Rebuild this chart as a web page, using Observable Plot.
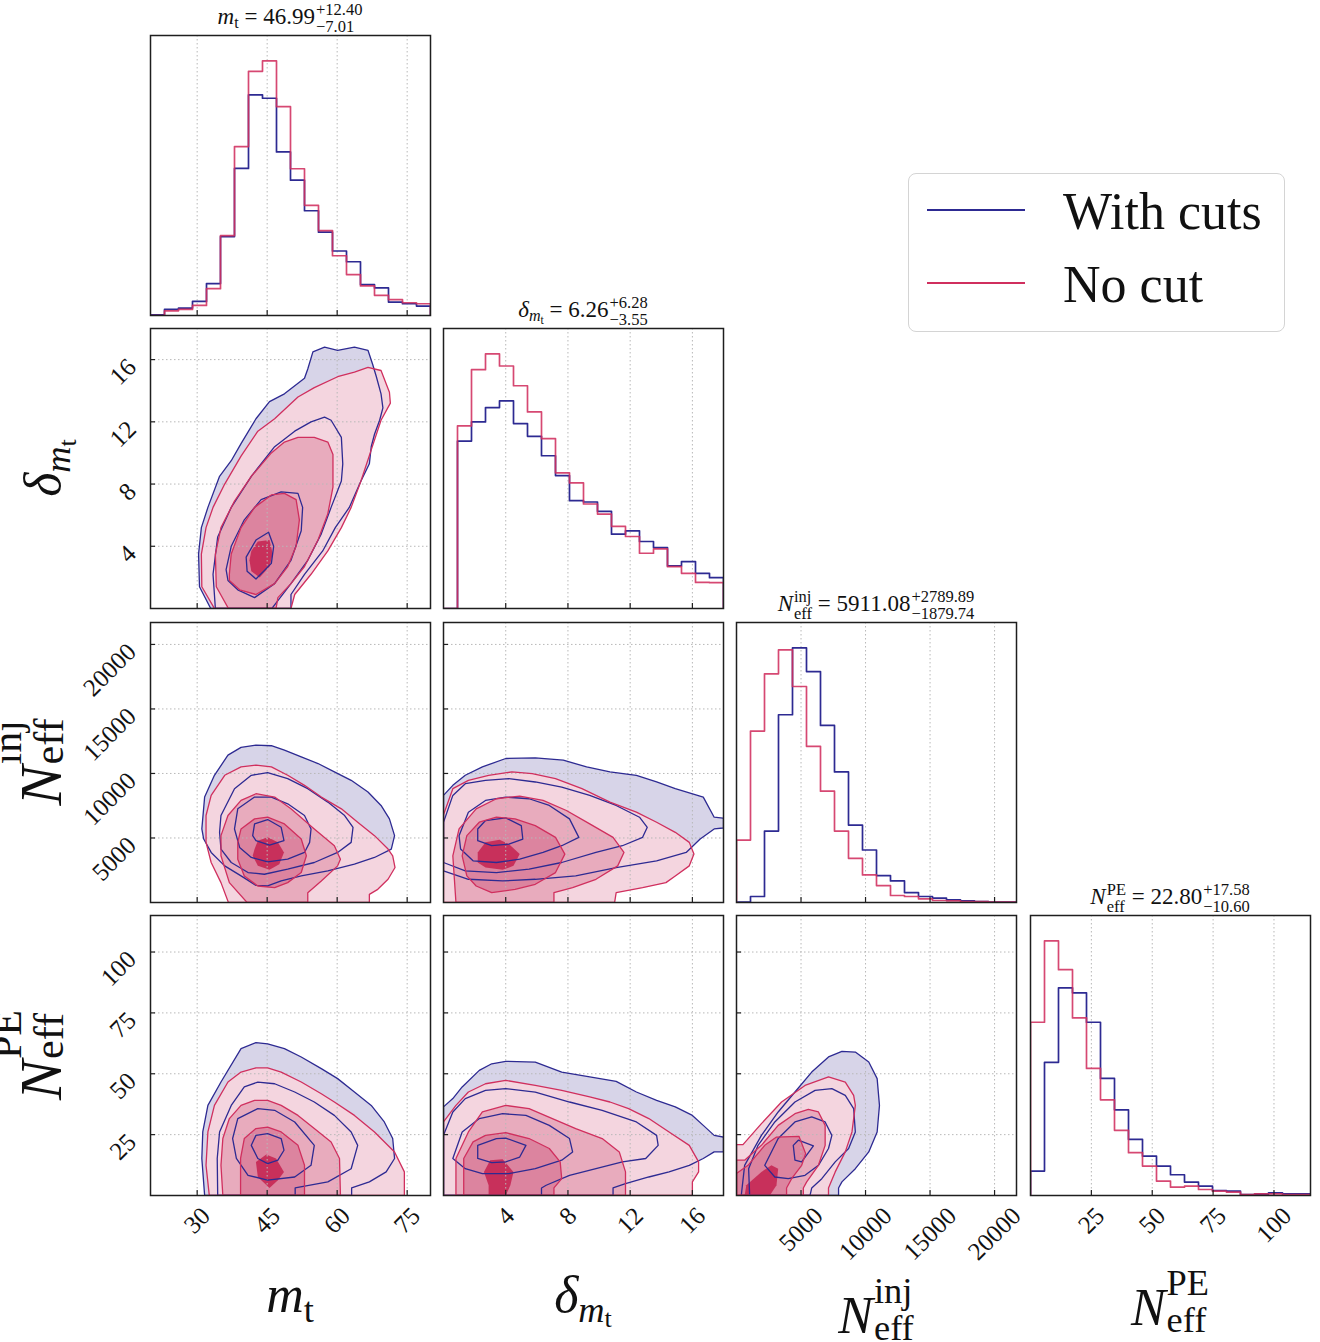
<!DOCTYPE html>
<html>
<head>
<meta charset="utf-8">
<script src="https://cdn.jsdelivr.net/npm/d3@7"></script>
<script src="https://cdn.jsdelivr.net/npm/@observablehq/plot@0.6"></script>
<style>
html,body{margin:0;padding:0;background:#fff;}
#fig{position:relative;width:1320px;height:1342px;overflow:hidden;background:#fff;font-family:"Liberation Serif","DejaVu Serif",serif;color:#111;}
.panel{position:absolute;width:280px;height:280px;}
.panel svg{overflow:visible;display:block;}
.title{position:absolute;white-space:nowrap;font-size:23px;line-height:23px;height:23px;transform:translateX(-50%);}
.lab{position:absolute;white-space:nowrap;font-size:52px;line-height:52px;height:52px;width:max-content;}
.lab.big{font-size:60px;line-height:60px;height:60px;}
.sb{font-size:0.7em;position:relative;top:0.28em;}
.sb .sb{font-size:0.72em;top:0.22em;}
.stk{display:inline-flex;flex-direction:column;vertical-align:baseline;position:relative;margin-left:1px;}
.title .stk{font-size:16.5px;line-height:17.5px;top:-0.55em;}
.lab .stk{font-size:0.7em;line-height:1.0;top:-0.8em;}
.lab.big .stk{top:-0.95em;}
.rot{transform:translate(-50%,-50%) rotate(-90deg);}
.ctr{transform:translateX(-50%);}
#legend{position:absolute;left:908px;top:173px;width:375px;height:157px;border:1.5px solid #d4d4d4;border-radius:8px;background:#fff;}
.lline{position:absolute;height:1.5px;width:98px;left:927px;}
.ltext{position:absolute;left:1063px;font-size:52px;line-height:52px;white-space:nowrap;}
</style>
</head>
<body>
<div id="fig"></div>
<script>
// ---------------- data ----------------
const seriesNames = ["With cuts", "No cut"];
const mtRange = [20, 80];
const dmRange = [0, 18];
const ninjRange = [0, 21700];
const npeRange = [0, 115];
const mtTicks = [30, 45, 60, 75];
const dmTicks = [4, 8, 12, 16];
const ninjTicks = [5000, 10000, 15000, 20000];
const npeTicks = [25, 50, 75, 100];

// 1D histograms (20 bins over each range), relative heights
const histMtCuts = [2,18,22,42,95,235,438,657,647,487,403,312,248,192,160,92,82,40,35,28];
const histMtNoCut = [0,14,18,30,80,238,503,727,758,622,437,328,253,178,122,88,60,47,38,35];
const histDmCuts = [0,500,557,600,620,552,514,456,397,322,318,290,222,232,200,182,127,140,105,92];
const histDmNoCut = [0,545,713,760,724,665,587,507,405,375,312,282,245,215,165,178,125,105,78,77];
const histNinjCuts = [1,18,215,565,766,695,533,393,233,158,81,65,30,18,13,8,5,3,1,1];
const histNinjNoCut = [188,516,688,760,650,470,335,215,133,83,51,21,18,11,6,5,3,3,1,1];
const histNpeCuts = [73,398,621,606,518,350,256,168,118,88,62,40,28,15,13,3,4,8,5,5];
const histNpeNoCut = [518,761,675,531,380,286,195,128,88,43,25,28,18,13,10,3,5,5,3,3];

// titles
const titleMt = ["46.99", "+12.40", "\u22127.01"];
const titleDm = ["6.26", "+6.28", "\u22123.55"];
const titleNinj = ["5911.08", "+2789.89", "\u22121879.74"];
const titleNpe = ["22.80", "+17.58", "\u221210.60"];

// 2D credible contours [outer, level2, level3, inner] as [x, y] vertices
const cMtDmCuts = [
 [[32.9,0],[30.5,1.4],[30.3,3.5],[30.9,5.2],[32.3,6.5],[34.8,8.5],[37.3,9.5],[39.4,10.6],[42.6,12.2],[45.5,13.3],[48.7,13.8],[53.0,14.8],[53.7,15.4],[54.8,16.5],[57.3,16.8],[60.1,16.6],[63.7,16.8],[66.6,16.6],[67.6,15.7],[68.4,14.9],[69.4,13.8],[69.8,12.9],[69.1,12.1],[68.0,11.2],[67.3,10.4],[66.9,9.3],[65.1,8.2],[62.6,6.5],[59.6,5.2],[56.9,3.7],[53.0,2.2],[50.1,0.9],[50.1,0]],
 [[33.9,0],[33.4,2.2],[34.4,4.6],[37.3,6.5],[41.6,8.5],[46.6,10.4],[50.9,11.4],[54.4,12.0],[57.3,12.3],[58.7,12.1],[60.9,11.0],[61.2,9.3],[60.9,8.2],[58.7,6.5],[56.6,4.8],[53.7,3.1],[50.1,1.6],[47.3,0.5],[46.0,0]],
 [[36.2,2.5],[37.3,4.0],[40.1,5.7],[43.7,7.0],[48.0,7.5],[51.6,7.4],[52.6,6.5],[52.3,5.0],[50.1,3.1],[46.6,1.6],[42.3,0.7],[38.7,1.2],[36.6,1.8]],
 [[40.5,3.3],[42.6,4.4],[45.3,4.9],[46.4,4.0],[45.9,2.9],[42.6,1.9],[40.7,2.4]]
];
const cMtDmNoCut = [
 [[33.7,0],[31.0,1.4],[30.9,3.5],[31.9,5.2],[33.4,6.5],[35.9,8.0],[39.4,9.8],[43.0,11.4],[46.6,12.2],[51.6,13.6],[55.1,14.2],[60.1,14.9],[63.7,15.2],[66.6,15.5],[69.4,15.3],[71.2,13.9],[71.4,13.2],[69.4,12.1],[67.3,10.2],[65.1,8.2],[63.0,6.5],[60.9,5.2],[58.0,3.7],[54.4,2.2],[50.9,0.9],[50.1,0]],
 [[36.7,0],[34.1,1.4],[33.9,3.5],[35.1,5.2],[38.0,6.9],[41.6,8.5],[45.9,10.0],[48.7,10.7],[51.6,11.0],[55.1,11.0],[58.0,10.7],[59.1,9.9],[59.1,7.8],[58.0,6.1],[55.9,4.4],[53.0,2.7],[50.1,1.6],[47.3,0.7],[46.9,0]],
 [[36.9,2.2],[37.3,3.5],[39.4,5.2],[42.3,6.5],[45.9,7.3],[48.7,7.4],[51.2,7.0],[51.9,5.7],[51.2,4.0],[49.4,2.7],[46.6,1.6],[42.6,0.9],[39.1,1.2],[36.9,1.8]],
 [[41.6,3.7],[43.0,4.3],[45.5,4.4],[46.2,3.5],[45.5,2.7],[43.4,2.0],[41.6,2.4],[41.2,3.1]]
];
const cMtNinjCuts = [
 [[31.0,5700],[31.6,8170],[33.7,9860],[36.6,11420],[39.4,12020],[42.6,12200],[45.9,12150],[48.7,11810],[52.3,11290],[55.9,10770],[59.4,10120],[63.0,9470],[66.6,8560],[69.4,7520],[71.2,6480],[72.3,5180],[71.6,4140],[68.0,3490],[63.7,2970],[58.0,2450],[52.3,2060],[48.0,1670],[45.1,1280],[42.6,1330],[39.4,2060],[35.9,2840],[33.0,3880],[31.4,4920]],
 [[35.1,6740],[38.0,8820],[41.6,9860],[45.1,10070],[49.4,9600],[53.7,8820],[58.0,7780],[61.6,6740],[63.4,5830],[63.0,4660],[60.1,3880],[55.1,3100],[49.4,2580],[44.4,2190],[40.9,2320],[37.3,3100],[35.1,4140],[34.8,5440]],
 [[38.0,5700],[38.7,7260],[42.3,8170],[45.9,8170],[49.4,7650],[53.0,6740],[54.4,5700],[54.1,4660],[53.0,3880],[49.4,3360],[45.1,3150],[41.6,3490],[39.1,4270]],
 [[41.9,5180],[42.3,6090],[45.1,6430],[48.0,5830],[48.6,4790],[45.5,4450],[42.6,4790]]
];
const cMtNinjNoCut = [
 [[36.7,0],[35.1,1540],[33.0,3100],[31.9,4660],[31.9,6740],[33.0,8300],[35.9,9860],[39.4,10510],[42.6,10640],[45.9,10510],[49.4,9860],[53.0,9080],[56.6,8170],[60.9,7260],[64.4,6220],[68.0,5180],[70.9,4140],[71.9,3620],[72.4,2710],[70.9,1800],[68.7,1020],[66.9,630],[66.9,0]],
 [[40.7,0],[36.9,1540],[35.1,3620],[35.1,5180],[36.6,6740],[39.4,7910],[42.6,8430],[46.6,8170],[50.1,7260],[55.1,5700],[59.4,4400],[60.7,3360],[60.1,2840],[56.6,1670],[53.7,760],[53.7,0]],
 [[38.7,3360],[38.7,4660],[39.4,5700],[42.3,6480],[45.1,6610],[48.7,6090],[52.3,4920],[53.4,3620],[52.3,2320],[49.4,1540],[46.6,1150],[43.0,1280],[40.1,2060]],
 [[42.3,4140],[43.0,4790],[45.1,5050],[47.3,4660],[48.6,3880],[47.6,2970],[45.5,2530],[43.0,2840],[41.9,3620]]
];
const cDmNinjCuts = [
 [[0,8300],[0.6,9080],[1.4,9860],[2.5,10510],[4.0,11160],[5.9,11210],[7.7,11030],[9.2,10510],[10.7,10120],[12.4,9860],[13.7,9340],[14.9,8820],[16.7,8170],[17.4,6610],[18,6530],[18,5780],[17.4,5700],[16.5,4920],[15.6,3880],[13.7,3230],[11.1,2710],[8.5,2060],[5.9,1800],[3.8,1670],[1.6,1800],[0,2450]],
 [[0,6220],[0.6,8300],[1.4,9210],[2.7,9470],[4.2,9600],[5.9,9340],[7.6,8950],[9.4,8300],[11.1,7520],[12.6,6610],[13.1,5830],[12.8,5050],[11.5,4400],[9.8,3880],[7.6,3100],[5.5,2580],[3.4,2320],[1.4,2450],[0,3100]],
 [[1.0,5180],[1.6,7000],[2.7,7910],[4.0,8170],[5.5,8040],[6.8,7520],[8.1,6480],[8.7,5050],[7.6,4400],[6.4,3880],[4.9,3360],[3.4,3100],[1.9,3230],[1.1,4140]],
 [[2.2,5700],[2.7,6350],[4.0,6560],[5.0,5960],[5.1,4920],[4.2,4530],[3.1,4400],[2.2,4790]]
];
const cDmNinjNoCut = [
 [[0,0],[0,6790],[0.6,8820],[1.6,9470],[2.9,9860],[4.4,10120],[5.7,9990],[7.2,9600],[8.9,8820],[10.7,7780],[12.4,7000],[13.7,6220],[14.9,5440],[15.8,4660],[16.1,3750],[15.8,2840],[14.9,2060],[14.3,1540],[12.8,1150],[11.1,760],[11.0,0]],
 [[0.8,0],[0.7,1800],[0.6,3620],[1.0,5700],[2.1,7260],[3.4,8040],[4.9,8250],[6.4,7910],[7.9,7130],[9.4,6090],[10.9,5050],[11.6,3880],[11.2,2840],[9.8,1800],[8.3,1150],[7.1,760],[7.1,0]],
 [[1.2,3620],[1.5,5180],[2.3,6220],[3.4,6610],[4.6,6480],[5.9,5960],[7.2,5050],[7.8,3750],[7.2,2320],[5.9,1410],[4.6,1020],[3.1,760],[2.1,1280],[1.5,2060]],
 [[2.2,3880],[2.7,4660],[3.6,4870],[4.2,4530],[4.9,3750],[4.5,2840],[3.8,2530],[2.7,2710],[2.2,3100]]
];
const cMtNpeCuts = [
 [[31.6,0],[31.0,15.2],[31.2,26.1],[32.3,37.0],[35.1,46.6],[39.4,60.3],[42.6,62.8],[45.1,62.3],[48.7,60.3],[52.3,56.9],[56.6,52.1],[60.1,48.0],[63.7,42.5],[67.3,37.0],[70.1,30.2],[71.9,23.4],[72.3,15.2],[70.5,9.7],[66.9,5.6],[63.1,3.1],[63.1,0]],
 [[34.4,0],[34.3,15.2],[34.8,26.1],[37.3,37.0],[40.1,44.6],[43.0,46.6],[46.6,45.9],[50.9,42.5],[55.1,38.4],[59.4,32.9],[63.0,26.1],[64.4,20.6],[63.0,11.0],[58.0,5.6],[51.0,3.1],[51.0,0]],
 [[37.6,23.4],[38.7,31.6],[43.0,35.7],[46.6,35.0],[50.9,30.2],[55.1,20.6],[54.4,12.4],[50.9,7.6],[45.1,6.3],[40.9,8.3],[38.4,15.2]],
 [[41.6,20.6],[42.6,24.7],[45.1,25.4],[48.0,23.4],[48.6,18.6],[47.3,14.5],[45.1,13.1],[43.0,15.2]]
];
const cMtNpeNoCut = [
 [[32.6,0],[31.9,12.4],[32.3,26.1],[33.7,37.0],[36.6,46.6],[39.4,50.7],[42.6,52.4],[45.1,52.4],[48.0,50.7],[52.3,46.6],[56.6,41.8],[59.4,38.4],[63.7,32.9],[68.0,26.1],[72.3,17.9],[74.4,9.7],[74.4,0]],
 [[35.5,0],[35.1,12.4],[35.5,23.4],[36.9,31.6],[39.4,37.0],[42.3,39.1],[45.1,39.1],[48.0,37.0],[51.6,32.9],[55.1,27.5],[58.7,22.0],[60.5,15.2],[60.7,0]],
 [[39.3,0],[39.3,15.2],[40.1,23.4],[42.6,27.5],[45.1,28.1],[48.0,26.1],[51.6,20.6],[53.0,12.4],[53.0,0]],
 [[42.6,13.8],[44.8,16.8],[46.9,15.2],[48.6,9.7],[47.3,6.3],[45.5,3.1],[43.0,7.6]]
];
const cDmNpeCuts = [
 [[0,0],[0,36.4],[0.6,39.8],[1.2,44.6],[2.3,51.4],[3.1,54.1],[4.0,55.1],[5.9,54.8],[7.6,50.7],[9.4,48.7],[11.1,46.9],[12.4,42.5],[13.7,39.1],[14.9,36.4],[16.0,32.9],[16.7,28.8],[17.4,24.7],[18,24.0],[18,17.9],[17.4,17.9],[16.7,15.2],[15.8,12.4],[14.5,9.7],[13.2,7.6],[11.7,4.9],[10.9,3.1],[10.9,0]],
 [[0,0],[0,24.7],[0.6,34.3],[1.4,39.8],[2.7,43.2],[4.0,43.9],[5.9,42.5],[8.1,38.4],[10.2,35.0],[12.4,30.2],[13.7,24.7],[13.8,20.6],[13.0,15.2],[11.5,13.8],[9.8,11.0],[8.1,8.3],[6.6,4.2],[6.3,3.1],[6.3,0]],
 [[0.6,15.2],[1.2,26.1],[2.3,31.6],[3.8,33.6],[5.3,32.9],[6.8,28.8],[8.1,23.4],[8.3,17.9],[7.6,14.5],[5.9,11.0],[4.2,9.0],[2.5,9.0],[1.4,11.0]],
 [[2.2,20.6],[3.4,23.4],[4.0,23.6],[5.3,20.6],[4.9,15.8],[4.0,13.8],[3.1,13.5],[2.2,15.2]]
];
const cDmNpeNoCut = [
 [[0,0],[0,30.2],[0.8,37.0],[1.6,42.5],[2.7,45.9],[4.0,47.3],[5.9,45.2],[7.6,43.2],[9.4,40.5],[10.7,38.4],[11.9,35.7],[13.2,31.6],[14.5,26.1],[15.8,20.6],[16.4,13.8],[16.4,9.7],[16.0,5.6],[16.0,0]],
 [[0.8,0],[0.8,15.2],[1.6,26.1],[2.5,34.3],[4.0,37.0],[5.5,35.7],[7.0,31.6],[8.5,27.5],[10.2,23.4],[11.3,17.9],[11.7,9.7],[11.7,0]],
 [[1.3,0],[1.3,15.2],[1.9,22.0],[2.7,24.7],[4.0,25.8],[5.5,23.4],[6.8,19.3],[7.5,13.8],[7.6,6.9],[7.1,3.1],[7.1,0]],
 [[2.9,0],[2.9,4.2],[2.6,9.7],[3.0,14.5],[3.8,14.9],[4.5,9.7],[4.3,4.2],[4.0,0]]
];
const cNinjNpeCuts = [
 [[370,0],[630,12.4],[1930,24.7],[3230,34.3],[4530,42.5],[5830,50.7],[7130,56.9],[8170,59.2],[9210,58.9],[10250,54.8],[10900,48.0],[11080,37.0],[10900,26.1],[10250,17.9],[9210,11.0],[8170,5.6],[7910,3.1],[7910,0]],
 [[1020,0],[940,11.0],[1670,20.6],[2970,30.2],[4530,38.4],[6090,43.2],[7390,43.9],[8430,41.1],[9080,35.7],[9210,26.1],[8690,19.3],[7650,13.8],[6610,6.9],[5830,3.1],[5700,0]],
 [[2190,12.4],[3230,23.4],[4530,30.2],[5830,32.3],[6870,30.2],[7390,24.7],[7130,19.3],[6350,12.4],[5310,8.3],[4010,6.9],[2970,7.6]],
 [[4400,20.6],[4790,22.7],[5960,20.4],[5050,13.8],[4530,14.5]]
];
const cNinjNpeNoCut = [
 [[0,0],[0,20.9],[500,20.9],[1930,29.5],[3490,38.4],[5310,45.2],[7130,48.7],[8430,46.6],[9080,41.1],[9210,37.0],[8950,26.1],[8430,17.9],[7650,9.7],[7130,3.1],[7130,0]],
 [[0,0],[0,14.5],[630,14.5],[1930,20.6],[3230,28.8],[4530,33.6],[5570,35.4],[6350,34.3],[6870,28.8],[6870,20.6],[6350,12.4],[5440,5.6],[5180,3.1],[5180,0]],
 [[0,0],[0,9.0],[890,12.4],[2190,20.6],[3100,24.0],[4840,24.3],[5360,17.2],[5050,12.4],[4270,6.9],[3880,3.1],[3880,0]],
 [[630,0],[760,4.2],[1930,9.7],[2710,12.4],[3230,11.0],[3100,4.2],[2580,0]]
];

// ---------------- style ----------------
const BLUE = "#2d2a92";
const RED = "#d02f5e";
const LAVENDER = "#d7d4e8";
const PINKS = ["#f4d5df", "#e8abbd", "#dc849f", "#c8305b"];
const GRID = "#b8b8b8";
const FRAME = "#1e1e1e";
const FONT = "Liberation Serif, DejaVu Serif, serif";
const TICKFS = 25;
const colX = [150, 443, 736, 1030];
const rowY = [35, 328, 622, 915];

const fig = document.getElementById("fig");

function poly(pts, o) {
  return Plot.line(pts, {x: d => d[0], y: d => d[1], curve: "linear-closed", clip: true, ...o});
}
function stepPts(range, vals) {
  const n = vals.length, w = (range[1] - range[0]) / n;
  const pts = [[range[0], 0]];
  vals.forEach((v, i) => pts.push([range[0] + i * w, v]));
  pts.push([range[1], vals[n - 1]]);
  pts.push([range[1], 0]);
  return pts;
}
function xLabelMarks(ticks) {
  const lens = [...new Set(ticks.map(t => String(t).length))];
  return lens.map(n => Plot.text(ticks.filter(t => String(t).length === n), {
    x: d => d, frameAnchor: "bottom", text: d => String(d), rotate: -45,
    textAnchor: "middle", lineAnchor: "middle",
    dy: 10 + (0.5 * TICKFS * n + 0.7 * TICKFS) * 0.354,
    fontSize: TICKFS, fontFamily: FONT, fill: "#111"
  }));
}
function yLabelMarks(ticks) {
  return [Plot.text(ticks, {
    y: d => d, frameAnchor: "left", text: d => String(d), rotate: -45,
    textAnchor: "end", lineAnchor: "bottom", dx: -13, dy: 9,
    fontSize: TICKFS, fontFamily: FONT, fill: "#111"
  })];
}
function gridStyle() {
  return {stroke: GRID, strokeOpacity: 1, strokeDasharray: "1.5,2.5", strokeWidth: 1};
}
function place(svg, col, row) {
  const d = document.createElement("div");
  d.className = "panel";
  d.style.left = colX[col] + "px";
  d.style.top = rowY[row] + "px";
  d.appendChild(svg);
  fig.appendChild(d);
}
function basePlot(xDom, yDom, marks) {
  return Plot.plot({
    width: 280, height: 280,
    marginTop: 0, marginRight: 0, marginBottom: 0, marginLeft: 0,
    x: {domain: xDom, axis: null}, y: {domain: yDom, axis: null},
    style: {background: "transparent", overflow: "visible", fontFamily: FONT, fontSize: TICKFS + "px"},
    marks
  });
}

function histPanel(col, range, ticks, cuts, nocut, showX) {
  const ymax = d3.max([...cuts, ...nocut]) * 1.1;
  const marks = [
    Plot.gridX(ticks, gridStyle()),
    Plot.line(stepPts(range, cuts), {x: d => d[0], y: d => d[1], curve: "step-after", stroke: BLUE, strokeWidth: 1.7, clip: true}),
    Plot.line(stepPts(range, nocut), {x: d => d[0], y: d => d[1], curve: "step-after", stroke: RED, strokeWidth: 1.7, strokeOpacity: 0.88, clip: true}),
    Plot.axisX(ticks, {tickSize: -5, fill: "none", label: null, stroke: FRAME, strokeWidth: 1.2}),
    Plot.frame({stroke: FRAME, strokeWidth: 1.5})
  ];
  if (showX) marks.push(...xLabelMarks(ticks));
  place(basePlot(range, [0, ymax], marks), col, col);
}

function contourPanel(col, row, xr, yr, xt, yt, cuts, nocut) {
  const marks = [
    poly(cuts[0], {fill: LAVENDER, stroke: "none"}),
    ...nocut.map((c, i) => poly(c, {fill: PINKS[i], stroke: "none"})),
    Plot.gridX(xt, gridStyle()),
    Plot.gridY(yt, gridStyle()),
    ...cuts.map(c => poly(c, {fill: "none", stroke: BLUE, strokeWidth: 1.3})),
    ...nocut.slice(0, 3).map(c => poly(c, {fill: "none", stroke: RED, strokeWidth: 1.3})),
    Plot.axisX(xt, {tickSize: -5, fill: "none", label: null, stroke: FRAME, strokeWidth: 1.2}),
    Plot.axisY(yt, {tickSize: -5, fill: "none", label: null, stroke: FRAME, strokeWidth: 1.2}),
    Plot.frame({stroke: FRAME, strokeWidth: 1.5})
  ];
  if (row === 3) marks.push(...xLabelMarks(xt));
  if (col === 0) marks.push(...yLabelMarks(yt));
  place(basePlot(xr, yr, marks), col, row);
}

// diagonal
histPanel(0, mtRange, mtTicks, histMtCuts, histMtNoCut, false);
histPanel(1, dmRange, dmTicks, histDmCuts, histDmNoCut, false);
histPanel(2, ninjRange, ninjTicks, histNinjCuts, histNinjNoCut, false);
histPanel(3, npeRange, npeTicks, histNpeCuts, histNpeNoCut, true);
// off-diagonal
contourPanel(0, 1, mtRange, dmRange, mtTicks, dmTicks, cMtDmCuts, cMtDmNoCut);
contourPanel(0, 2, mtRange, ninjRange, mtTicks, ninjTicks, cMtNinjCuts, cMtNinjNoCut);
contourPanel(1, 2, dmRange, ninjRange, dmTicks, ninjTicks, cDmNinjCuts, cDmNinjNoCut);
contourPanel(0, 3, mtRange, npeRange, mtTicks, npeTicks, cMtNpeCuts, cMtNpeNoCut);
contourPanel(1, 3, dmRange, npeRange, dmTicks, npeTicks, cDmNpeCuts, cDmNpeNoCut);
contourPanel(2, 3, ninjRange, npeRange, ninjTicks, npeTicks, cNinjNpeCuts, cNinjNpeNoCut);

// ---------------- text ----------------
const symMt = '<i>m</i><span class="sb">t</span>';
const symDm = '<i>δ</i><span class="sb"><i>m</i><span class="sb">t</span></span>';
const symNinj = '<i>N</i><span class="stk"><span>inj</span><span>eff</span></span>';
const symNpe = '<i>N</i><span class="stk"><span>PE</span><span>eff</span></span>';

function addTitle(col, sym, t) {
  const baseline = rowY[col] - 11;
  const d = document.createElement("div");
  d.className = "title";
  d.style.left = (colX[col] + 140) + "px";
  d.style.top = (baseline - 19.3) + "px";
  d.innerHTML = `${sym} = ${t[0]}<span class="stk"><span>${t[1]}</span><span>${t[2]}</span></span>`;
  fig.appendChild(d);
}
addTitle(0, symMt, titleMt);
addTitle(1, symDm, titleDm);
addTitle(2, symNinj, titleNinj);
addTitle(3, symNpe, titleNpe);

function addBottom(cx, baseline, html) {
  const d = document.createElement("div");
  d.className = "lab ctr";
  d.style.left = cx + "px";
  d.style.top = (baseline - 43.5) + "px";
  d.innerHTML = html;
  fig.appendChild(d);
}
addBottom(290, 1312, symMt);
addBottom(583, 1312, symDm);
addBottom(876, 1333, symNinj);
addBottom(1170, 1325, symNpe);

function addLeft(cy, baselineX, html, big) {
  const d = document.createElement("div");
  d.className = "lab rot" + (big ? " big" : "");
  const fs = big ? 60 : 52;
  d.style.left = (baselineX - 0.337 * fs) + "px";
  d.style.top = cy + "px";
  d.innerHTML = html;
  fig.appendChild(d);
}
addLeft(rowY[1] + 140, 61, symDm, false);
addLeft(rowY[2] + 140, 61, symNinj, true);
addLeft(rowY[3] + 140, 61, symNpe, true);

// legend
const leg = document.createElement("div");
leg.id = "legend";
fig.appendChild(leg);
[[BLUE, 210, 229], [RED, 283, 302]].forEach(([c, ly, tb], i) => {
  const l = document.createElement("div");
  l.className = "lline";
  l.style.top = (ly - 0.75) + "px";
  l.style.background = c;
  fig.appendChild(l);
  const t = document.createElement("div");
  t.className = "ltext";
  t.style.top = (tb - 43.5) + "px";
  t.textContent = seriesNames[i];
  fig.appendChild(t);
});
</script>
</body>
</html>
